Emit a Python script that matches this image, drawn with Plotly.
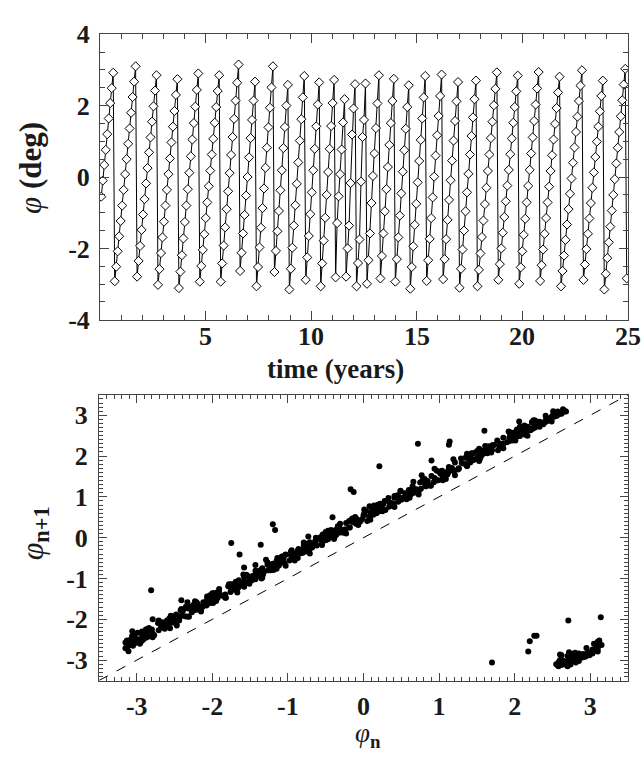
import plotly.graph_objects as go

# ---------------- data ----------------
# phase phi of each sample, grouped by cycle (each cycle rises then wraps)
PHI_CYCLES = [
    [-0.55, -0.10, 0.34, 0.76, 1.20, 1.64, 2.07, 2.49, 2.92],
    [-2.92, -2.51, -2.08, -1.66, -1.23, -0.80, -0.36, 0.08, 0.50, 0.93, 1.36, 1.80, 2.24, 2.67, 3.10],
    [-2.79, -2.35, -1.93, -1.48, -1.05, -0.62, -0.18, 0.25, 0.69, 1.11, 1.55, 1.98, 2.42, 2.85],
    [-3.02, -2.58, -2.13, -1.69, -1.25, -0.80, -0.36, 0.08, 0.52, 0.97, 1.41, 1.85, 2.30, 2.74],
    [-3.11, -2.65, -2.19, -1.72, -1.26, -0.80, -0.34, 0.12, 0.58, 1.05, 1.51, 1.97, 2.44, 2.90],
    [-2.93, -2.49, -2.04, -1.60, -1.15, -0.71, -0.26, 0.18, 0.63, 1.07, 1.52, 1.96, 2.41, 2.85],
    [-2.93, -2.42, -1.92, -1.41, -0.90, -0.40, 0.11, 0.62, 1.12, 1.63, 2.14, 2.64, 3.15],
    [-2.63, -2.12, -1.58, -1.06, -0.52, 0.00, 0.55, 1.09, 1.60, 2.14, 2.67],
    [-3.06, -2.52, -1.97, -1.42, -0.87, -0.32, 0.26, 0.82, 1.39, 1.94, 2.51, 3.10],
    [-2.66, -2.07, -1.52, -0.95, -0.37, 0.19, 0.81, 1.40, 2.00, 2.58],
    [-3.15, -2.57, -1.98, -1.36, -0.79, -0.19, 0.41, 1.02, 1.62, 2.23, 2.83],
    [-2.88, -2.25, -1.65, -1.04, -0.43, 0.19, 0.79, 1.42, 2.03, 2.65],
    [-3.06, -2.42, -1.78, -1.14, -0.50, 0.14, 0.79, 1.43, 2.07, 2.72],
    [-2.81, -1.29, -0.54, 0.08, 0.77, 1.53, 2.18],
    [-2.79, -2.00, -1.36, -0.17, 1.19, 1.92, 2.60],
    [-3.06, -2.41, -1.75, -0.13, 1.12, 1.60, 2.62],
    [-2.99, -2.33, -1.58, -0.73, 0.03, 0.66, 1.37, 2.06, 2.85],
    [-2.84, -2.21, -1.58, -0.96, -0.34, 0.28, 0.90, 1.51, 2.13, 2.75],
    [-2.93, -2.30, -1.69, -1.08, -0.46, 0.15, 0.75, 1.35, 1.96, 2.57],
    [-3.13, -2.52, -1.94, -1.34, -0.75, -0.15, 0.45, 1.04, 1.64, 2.23, 2.83],
    [-2.91, -2.33, -1.73, -1.15, -0.57, 0.01, 0.60, 1.17, 1.71, 2.27, 2.87],
    [-2.86, -2.30, -1.74, -1.20, -0.64, -0.09, 0.46, 1.02, 1.57, 2.12, 2.66],
    [-3.10, -2.57, -2.03, -1.50, -0.96, -0.43, 0.09, 0.63, 1.15, 1.67, 2.18, 2.70],
    [-3.06, -2.60, -2.14, -1.68, -1.22, -0.76, -0.30, 0.17, 0.63, 1.09, 1.55, 2.01, 2.47, 2.93],
    [-2.88, -2.44, -2.00, -1.56, -1.12, -0.68, -0.24, 0.20, 0.64, 1.08, 1.52, 1.96, 2.40, 2.84],
    [-2.99, -2.53, -2.08, -1.62, -1.17, -0.71, -0.25, 0.20, 0.66, 1.11, 1.57, 2.03, 2.48, 2.94],
    [-2.91, -2.47, -2.03, -1.59, -1.15, -0.71, -0.27, 0.17, 0.61, 1.05, 1.49, 1.93, 2.37, 2.81],
    [-3.06, -2.63, -2.20, -1.76, -1.33, -0.90, -0.47, -0.04, 0.40, 0.83, 1.26, 1.69, 2.13, 2.56, 2.99],
    [-2.88, -2.45, -2.02, -1.59, -1.16, -0.73, -0.30, 0.13, 0.56, 0.99, 1.41, 1.84, 2.27, 2.70],
    [-3.15, -2.71, -2.27, -1.83, -1.39, -0.94, -0.50, -0.06, 0.38, 0.82, 1.26, 1.70, 2.15, 2.59, 3.03],
    [-2.84],
]
FIRST_SAMPLE_TIME = 0.06      # years
SAMPLE_INTERVAL = 0.07068     # years between samples (about one rotation)

# lower panel: further return-map points seen in the dense band (phi_n and its step to phi_n+1)
BAND_PHI_N = [
    -3.13, -3.09, -3.05, -3.00, -2.96, -2.93, -2.88, -2.84, -2.80, -2.77,
    -2.72, -2.68, -2.64, -2.60, -2.56, -2.51, -2.48, -2.44, -2.39, -2.35,
    -2.32, -2.27, -2.23, -2.20, -2.15, -2.11, -2.07, -2.03, -1.99, -1.95,
    -1.91, -1.87, -1.82, -1.79, -1.75, -1.70, -1.67, -1.63, -1.58, -1.55,
    -1.51, -1.46, -1.43, -1.39, -1.34, -1.31, -1.27, -1.22, -1.19, -1.15,
    -1.10, -1.07, -1.03, -0.98, -0.95, -0.91, -0.86, -0.83, -0.79, -0.74,
    -0.71, -0.67, -0.62, -0.59, -0.55, -0.50, -0.47, -0.43, -0.38, -0.35,
    -0.31, -0.26, -0.23, -0.19, -0.14, -0.11, -0.07, -0.02, 0.01, 0.05,
    0.10, 0.13, 0.17, 0.22, 0.25, 0.29, 0.34, 0.37, 0.41, 0.46,
    0.49, 0.53, 0.58, 0.61, 0.65, 0.70, 0.73, 0.77, 0.82, 0.85,
    0.89, 0.94, 0.97, 1.01, 1.06, 1.09, 1.13, 1.18, 1.21, 1.25,
    1.30, 1.33, 1.37, 1.42, 1.45, 1.49, 1.54, 1.57, 1.61, 1.66,
    1.69, 1.73, 1.78, 1.81, 1.85, 1.90, 1.93, 1.97, 2.02, 2.05,
    2.09, 2.14, 2.17, 2.21, 2.26, 2.29, 2.33, 2.38, 2.41, 2.45,
    2.50, 2.53, 2.57, 2.62, 2.65, 2.68,
    -3.11, -3.03, -2.95, -2.87, -2.79, -2.71, -2.63, -2.55, -2.47, -2.39,
    -2.31, -2.23, -2.15, -2.07, -1.99, -1.91, -1.83, -1.75, -1.67, -1.59,
    -1.51, -1.43, -1.35, -1.27, -1.19, -1.11, -1.03, -0.95, -0.87, -0.79,
    -0.71, -0.63, -0.55, -0.47, -0.39, -0.31, -0.23, -0.15, -0.07, 0.01,
    0.09, 0.17, 0.25, 0.33, 0.41, 0.49, 0.57, 0.65, 0.73, 0.81,
    0.89, 0.97, 1.05, 1.13, 1.21, 1.29, 1.37, 1.45, 1.53, 1.61,
    1.69, 1.77, 1.85, 1.93, 2.01, 2.09, 2.17, 2.25, 2.33, 2.41,
    2.49, 2.57, 2.64,
]
BAND_STEP = [
    0.45, 0.58, 0.40, 0.52, 0.36, 0.61, 0.47, 0.42, 0.55, 0.38,
    0.63, 0.49, 0.44, 0.57, 0.34, 0.51, 0.60, 0.41, 0.48, 0.66,
    0.39, 0.54, 0.46, 0.59, 0.37, 0.50, 0.43, 0.62, 0.53, 0.40,
    0.56, 0.45, 0.35, 0.60, 0.48, 0.42, 0.58, 0.51, 0.38, 0.64,
    0.46, 0.53, 0.41, 0.57, 0.36, 0.49, 0.61, 0.44, 0.52, 0.39,
    0.55, 0.47, 0.62, 0.42, 0.50, 0.35, 0.58, 0.45, 0.53, 0.40,
    0.60, 0.48, 0.43, 0.56, 0.37, 0.51, 0.64, 0.46, 0.41, 0.54,
    0.49, 0.38, 0.59, 0.44, 0.52, 0.62, 0.40, 0.47, 0.55, 0.36,
    0.50, 0.58, 0.43, 0.61, 0.46, 0.39, 0.53, 0.48, 0.57, 0.42,
    0.65, 0.45, 0.51, 0.37, 0.56, 0.49, 0.41, 0.60, 0.47, 0.54,
    0.38, 0.52, 0.44, 0.59, 0.50, 0.35, 0.57, 0.46, 0.63, 0.42,
    0.53, 0.48, 0.40, 0.55, 0.45, 0.61, 0.39, 0.51, 0.47, 0.58,
    0.43, 0.54, 0.36, 0.49, 0.60, 0.44, 0.52, 0.41, 0.57, 0.46,
    0.50, 0.38, 0.55, 0.42, 0.48, 0.45, 0.51, 0.40, 0.47, 0.43,
    0.49, 0.44, 0.46, 0.42, 0.45, 0.41,
    0.33, 0.66, 0.38, 0.62, 0.35, 0.68, 0.40, 0.64, 0.32, 0.60,
    0.37, 0.67, 0.34, 0.63, 0.39, 0.65, 0.36, 0.61, 0.33, 0.69,
    0.38, 0.62, 0.35, 0.66, 0.40, 0.60, 0.34, 0.64, 0.37, 0.67,
    0.32, 0.63, 0.39, 0.61, 0.36, 0.65, 0.33, 0.62, 0.38, 0.68,
    0.35, 0.60, 0.40, 0.64, 0.34, 0.66, 0.37, 0.61, 0.33, 0.63,
    0.39, 0.67, 0.36, 0.60, 0.32, 0.65, 0.38, 0.62, 0.35, 0.64,
    0.40, 0.61, 0.34, 0.66, 0.37, 0.60, 0.33, 0.63, 0.39, 0.58,
    0.36, 0.52, 0.44,
]

# lower panel: isolated points and the wrapped cluster at lower right
EXTRA_PHI_N = [-3.06, -1.64, -0.41, -1.20, -1.17, -1.43, 0.21, 0.72, 0.90, 0.94,
               1.14, 1.13, 1.70, 2.20, 2.26, 2.29, 2.71, 3.14, 2.60, -2.41,
               2.55, 2.58, 2.62, 2.65, 2.68, 2.72, 2.75, 2.78, 2.82, 2.85,
               2.88, 2.91, 2.94, 2.97, 3.00, 3.03, 3.05, 3.08, 3.10, 3.12,
               2.70, 2.76, 2.60, 2.62, 2.80, 2.95, 3.05, 3.12, 3.10]
EXTRA_PHI_N1 = [-2.29, -0.41, 0.50, 0.33, 0.19, -0.67, 1.75, 2.30, 1.89, 1.69,
                2.36, 2.28, -3.06, -2.54, -2.40, -2.40, -2.03, -1.95, -2.86, -1.53,
                -3.10, -3.05, -3.12, -3.02, -3.08, -2.98, -3.04, -2.95, -2.99, -2.90,
                -2.94, -2.85, -2.88, -2.80, -2.83, -2.74, -2.78, -2.68, -2.72, -2.63,
                -2.90, -2.85, -3.00, -2.88, -2.82, -2.70, -2.60, -2.52, -2.55]

TOP_X_TICKS = [5, 10, 15, 20, 25]
TOP_Y_TICKS = [-4, -2, 0, 2, 4]
BOT_TICKS = [-3, -2, -1, 0, 1, 2, 3]
IDENTITY_RANGE = [-3.5, 3.5]

# ---------------- build series ----------------
phi = [v for cyc in PHI_CYCLES for v in cyc]
time = [FIRST_SAMPLE_TIME + i * SAMPLE_INTERVAL for i in range(len(phi))]
band_n = [a for a, s in zip(BAND_PHI_N, BAND_STEP)]
band_n1 = [round(a + s, 2) for a, s in zip(BAND_PHI_N, BAND_STEP)]
phi_n = phi[:-1] + band_n + EXTRA_PHI_N
phi_n1 = phi[1:] + band_n1 + EXTRA_PHI_N1

FONT = "Liberation Serif"
W, H = 643, 759
INK = "#1a1a1a"

fig = go.Figure()
fig.add_trace(go.Scatter(
    x=time, y=phi, mode="lines+markers",
    line=dict(color="black", width=1),
    marker=dict(symbol="diamond", size=7, color="white",
                line=dict(color="black", width=1)),
    xaxis="x", yaxis="y", showlegend=False))

fig.add_trace(go.Scatter(
    x=phi_n, y=phi_n1, mode="markers",
    marker=dict(symbol="circle", size=6, color="black"),
    xaxis="x2", yaxis="y2", showlegend=False))

fig.add_shape(type="line", xref="x2", yref="y2",
              x0=IDENTITY_RANGE[0], y0=IDENTITY_RANGE[0],
              x1=IDENTITY_RANGE[1], y1=IDENTITY_RANGE[1],
              line=dict(color="black", width=1, dash="10px,10px"))

tickfont = dict(family=FONT, size=26, color=INK, weight="bold")
common = dict(showline=True, linecolor="#444", linewidth=1, mirror="ticks",
              ticks="inside", showgrid=False, zeroline=False, tickfont=tickfont,
              tickcolor="#444")


def dom_x(l, r):
    return [l / W, r / W]


def dom_y(t, b):
    return [1 - b / H, 1 - t / H]


fig.update_layout(
    width=W, height=H, margin=dict(l=0, r=0, t=0, b=0),
    paper_bgcolor="white", plot_bgcolor="white",
    xaxis=dict(domain=dom_x(100, 628), range=[0, 25], anchor="y",
               tickvals=TOP_X_TICKS, showticklabels=False,
               ticklen=9, minor=dict(ticks="inside", dtick=1, ticklen=5, tickcolor="#444"),
               **common),
    yaxis=dict(domain=dom_y(21, 318), range=[-4, 4], anchor="x",
               tickvals=TOP_Y_TICKS, ticktext=[str(v) for v in TOP_Y_TICKS],
               ticklabelstandoff=4,
               ticklen=9, minor=dict(ticks="inside", dtick=0.5, ticklen=5, tickcolor="#444"),
               **common),
    xaxis2=dict(domain=dom_x(99, 628), range=[-3.5, 3.5], anchor="y2",
                tickvals=BOT_TICKS, ticktext=[str(v) for v in BOT_TICKS],
                ticklabelstandoff=2,
                ticklen=8, minor=dict(ticks="inside", dtick=0.1, ticklen=4, tickcolor="#444"),
                **common),
    yaxis2=dict(domain=dom_y(396, 693), range=[-3.5, 3.5], anchor="x2",
                tickvals=BOT_TICKS, ticktext=[str(v) for v in BOT_TICKS],
                ticklabelstandoff=5,
                ticklen=8, minor=dict(ticks="inside", dtick=0.1, ticklen=4, tickcolor="#444"),
                **common),
)

# top-panel time tick labels (placed tight under the frame as in the original)
for v in TOP_X_TICKS:
    fig.add_annotation(text=f"<b>{v}</b>", xref="x", yref="paper",
                       x=v, y=1 - 319 / H, showarrow=False,
                       font=dict(family=FONT, size=26, color=INK),
                       xanchor="center", yanchor="top", borderpad=0)

fig.add_annotation(text="<b>time (years)</b>", xref="paper", yref="paper",
                   x=335 / W, y=1 - 369 / H, showarrow=False,
                   font=dict(family=FONT, size=27, color=INK),
                   xanchor="center", yanchor="middle", borderpad=0)
fig.add_annotation(text="<i>\u03c6</i><b> (deg)</b>", xref="paper", yref="paper",
                   x=31 / W, y=1 - 160 / H, showarrow=False,
                   font=dict(family=FONT, size=31, color=INK),
                   textangle=-90, xanchor="center", yanchor="middle")
fig.add_annotation(text="<i>\u03c6</i><sub><b>n+1</b></sub>", xref="paper", yref="paper",
                   x=34 / W, y=1 - 540 / H, showarrow=False,
                   font=dict(family=FONT, size=32, color=INK),
                   textangle=-90, xanchor="center", yanchor="middle")
fig.add_annotation(text="<i>\u03c6</i><sub><b>n</b></sub>", xref="paper", yref="paper",
                   x=368 / W, y=1 - 750 / H, showarrow=False,
                   font=dict(family=FONT, size=27, color=INK),
                   xanchor="center", yanchor="middle", borderpad=0)

fig.write_html("out.html")
